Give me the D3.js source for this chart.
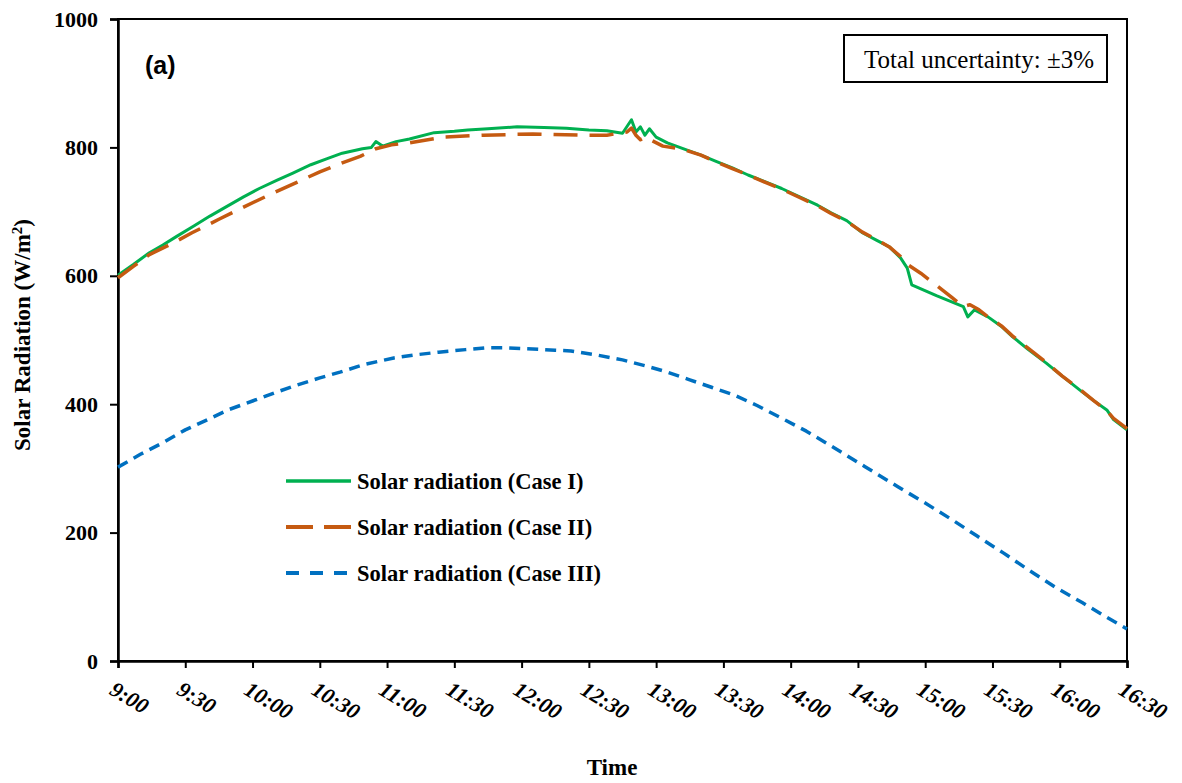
<!DOCTYPE html>
<html>
<head>
<meta charset="utf-8">
<script src="https://cdn.jsdelivr.net/npm/d3@7"></script>
<style>
  body { margin: 0; background: #ffffff; }
  svg { display: block; }
</style>
</head>
<body>
<div id="chart"></div>
<script>
// Case I (measured), time of day and W/m2
const caseITimes = ["9:00","9:07","9:14","9:20","9:26","9:34","9:41","9:48","9:56","10:03","10:11","10:18","10:26","10:33","10:40","10:49","10:53","10:55","10:58","11:04","11:10","11:21","11:30","11:36","11:45","11:58","12:10","12:20","12:30","12:38","12:45","12:49","12:51","12:53","12:55","12:57","13:00","13:05","13:12","13:20","13:27","13:34","13:41","13:49","13:56","14:04","14:12","14:18","14:25","14:32","14:38","14:44","14:49","14:52","14:54","15:05","15:17","15:19","15:22","15:28","15:34","15:39","15:46","15:54","16:01","16:09","16:15","16:21","16:24","16:30"];
const caseIValues = [601,618,636,648,661,678,693,707,723,736,749,760,773,782,791,798,800,809,802,809,813,823,825,827,829,832,831,830,827,826,822,843,824,832,819,829,816,807,798,788,778,768,757,746,736,723,710,698,686,667,656,645,628,612,586,569,552,536,547,536,521,505,485,464,444,422,406,391,376,360];

// Case II
const caseIITimes = ["9:00","9:07","9:14","9:24","9:33","9:45","9:56","10:08","10:20","10:30","10:40","10:48","10:55","11:02","11:10","11:25","11:43","12:05","12:29","12:38","12:47","12:49","12:51","12:53","12:55","13:03","13:12","13:20","13:27","13:34","13:41","13:49","13:56","14:04","14:12","14:18","14:25","14:32","14:38","14:44","14:49","14:52","14:58","15:12","15:17","15:20","15:24","15:28","15:34","15:39","15:46","15:54","16:01","16:09","16:15","16:21","16:24","16:30"];
const caseIIValues = [597,615,633,650,667,688,707,727,746,762,776,786,798,804,807,816,819,821,819,819,824,830,819,812,816,802,797,788,777,767,757,745,735,722,709,697,685,668,657,645,630,618,604,566,552,555,547,536,522,506,487,465,444,423,406,390,378,362];

// Case III
const caseIIITimes = ["9:00","9:10","9:20","9:30","9:40","9:49","10:00","10:10","10:20","10:30","10:39","10:50","11:03","11:13","11:23","11:35","11:45","11:52","12:05","12:15","12:22","12:33","12:45","12:55","13:05","13:15","13:25","13:35","13:45","13:55","14:07","14:19","14:33","14:48","15:00","15:12","15:23","15:35","15:46","15:58","16:10","16:20","16:30"];
const caseIIIValues = [302,322,340,360,376,391,405,418,430,441,450,462,472,477,481,485,488,488,486,484,483,477,469,460,450,438,426,414,398,380,358,333,303,271,246,220,195,168,142,115,91,70,50];

const seriesNames = ["Solar radiation (Case I)", "Solar radiation (Case II)", "Solar radiation (Case III)"];
const xTickLabels = ["9:00","9:30","10:00","10:30","11:00","11:30","12:00","12:30","13:00","13:30","14:00","14:30","15:00","15:30","16:00","16:30"];
const yTickValues = [0, 200, 400, 600, 800, 1000];

const width = 1182, height = 783;
const plotLeft = 118, plotRight = 1127, plotTop = 19, plotBottom = 661;
const serif = "'Times New Roman', 'Liberation Serif', serif";

const parse = d3.timeParse("%H:%M");
const fmt = d3.timeFormat("%-H:%M");

const x = d3.scaleTime()
  .domain([parse("9:00"), parse("16:30")])
  .range([plotLeft, plotRight]);
const y = d3.scaleLinear()
  .domain([0, 1000])
  .range([plotBottom, plotTop]);

const svg = d3.select("#chart").append("svg")
  .attr("width", width)
  .attr("height", height)
  .style("background", "#ffffff");

function zip(times, values) {
  return times.map(function(t, i) { return { t: parse(t), v: values[i] }; });
}

const series = [
  { name: seriesNames[0], data: zip(caseITimes, caseIValues), color: "#00b050", dash: null, w: 3 },
  { name: seriesNames[1], data: zip(caseIITimes, caseIIValues), color: "#c55a11", dash: "24,12", w: 3.5 },
  { name: seriesNames[2], data: zip(caseIIITimes, caseIIIValues), color: "#0070c0", dash: "11,7", w: 3.5 }
];

// frame around the plot area
svg.append("rect")
  .attr("x", plotLeft).attr("y", plotTop)
  .attr("width", plotRight - plotLeft).attr("height", plotBottom - plotTop)
  .attr("fill", "none").attr("stroke", "#000").attr("stroke-width", 2);

// y axis
const yAxis = svg.append("g")
  .attr("transform", `translate(${plotLeft},0)`)
  .call(d3.axisLeft(y).tickValues(yTickValues).tickSize(8).tickPadding(12).tickFormat(d3.format("d")));
yAxis.select(".domain").attr("stroke-width", 2.5);
yAxis.selectAll(".tick line").attr("stroke-width", 2);
yAxis.selectAll("text")
  .attr("font-family", serif).attr("font-weight", "bold").attr("font-size", 22).attr("fill", "#000");

// x axis
const xAxis = svg.append("g")
  .attr("transform", `translate(0,${plotBottom})`)
  .call(d3.axisBottom(x).tickValues(xTickLabels.map(parse)).tickSize(7).tickFormat(fmt));
xAxis.select(".domain").attr("stroke-width", 2.5);
xAxis.selectAll(".tick line").attr("stroke-width", 2);
xAxis.selectAll("text")
  .attr("font-family", serif).attr("font-weight", "bold").attr("font-style", "italic")
  .attr("font-size", 22).attr("fill", "#000")
  .attr("text-anchor", "start")
  .attr("x", 0).attr("y", 0).attr("dy", "0.72em")
  .attr("transform", "translate(-2,19) rotate(31)");

// lines
const line = d3.line().x(d => x(d.t)).y(d => y(d.v));
series.forEach(function(s) {
  svg.append("path")
    .datum(s.data)
    .attr("d", line)
    .attr("fill", "none")
    .attr("stroke", s.color)
    .attr("stroke-width", s.w)
    .attr("stroke-linejoin", "round")
    .attr("stroke-dasharray", s.dash);
});

// legend
const legendY = [481, 527, 573];
series.forEach(function(s, i) {
  svg.append("line")
    .attr("x1", 286).attr("x2", 351)
    .attr("y1", legendY[i]).attr("y2", legendY[i])
    .attr("stroke", s.color).attr("stroke-width", s.w + 0.5)
    .attr("stroke-dasharray", s.dash ? (i == 1 ? "27,11" : "13,11") : null);
  svg.append("text")
    .attr("x", 357).attr("y", legendY[i] + 8)
    .attr("font-family", serif).attr("font-weight", "bold").attr("font-size", 22.5)
    .text(s.name);
});

// panel label
svg.append("text")
  .attr("x", 145).attr("y", 74)
  .attr("font-family", "'Liberation Sans', Arial, sans-serif")
  .attr("font-weight", "bold").attr("font-size", 25)
  .text("(a)");

// uncertainty box
svg.append("rect")
  .attr("x", 844).attr("y", 35).attr("width", 263).attr("height", 47)
  .attr("fill", "#fff").attr("stroke", "#000").attr("stroke-width", 2);
svg.append("text")
  .attr("x", 864).attr("y", 68)
  .attr("font-family", serif).attr("font-size", 25)
  .text("Total uncertainty: \u00b13%");

// axis titles
svg.append("text")
  .attr("x", 612).attr("y", 775)
  .attr("text-anchor", "middle")
  .attr("font-family", serif).attr("font-weight", "bold").attr("font-size", 23)
  .text("Time");

const yTitle = svg.append("text")
  .attr("transform", "translate(30,335) rotate(-90)")
  .attr("text-anchor", "middle")
  .attr("font-family", serif).attr("font-weight", "bold").attr("font-size", 23);
yTitle.append("tspan").text("Solar Radiation (W/m");
yTitle.append("tspan").attr("dy", -8).attr("font-size", 15).text("2");
yTitle.append("tspan").attr("dy", 8).text(")");
</script>
</body>
</html>
